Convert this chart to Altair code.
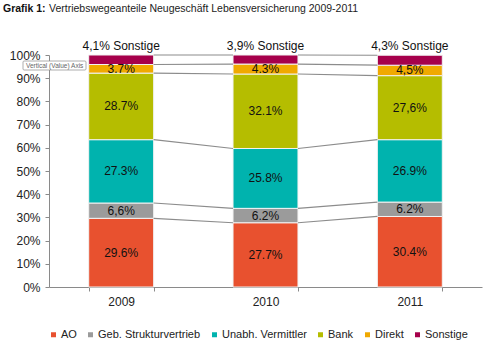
import altair as alt
import pandas as pd

years = ["2009", "2010", "2011"]
categories = ["AO", "Geb. Strukturvertrieb", "Unabh. Vermittler", "Bank", "Direkt", "Sonstige"]
colors = ["#E8512F", "#9B9B9B", "#00B3AE", "#B5BD00", "#F0A900", "#A6004B"]

ao = [29.6, 27.7, 30.4]
geb = [6.6, 6.2, 6.2]
unabh = [27.3, 25.8, 26.9]
bank = [28.7, 32.1, 27.6]
direkt = [3.7, 4.3, 4.5]
sonstige = [4.1, 3.9, 4.3]

ao_lbl = ["29.6%", "27.7%", "30.4%"]
geb_lbl = ["6,6%", "6.2%", "6.2%"]
unabh_lbl = ["27.3%", "25.8%", "26.9%"]
bank_lbl = ["28.7%", "32.1%", "27,6%"]
direkt_lbl = ["3.7%", "4.3%", "4,5%"]
sonstige_lbl = ["4,1% Sonstige", "3,9% Sonstige", "4,3% Sonstige"]
y_ticks = [0, 10, 20, 30, 40, 50, 60, 70, 80, 90, 100]

series = [ao, geb, unabh, bank, direkt, sonstige]
labels = [ao_lbl, geb_lbl, unabh_lbl, bank_lbl, direkt_lbl, sonstige_lbl]

rows = []
for ci, (cat, vals, lbls) in enumerate(zip(categories, series, labels)):
    for yi, yr in enumerate(years):
        rows.append({"year": yr, "cat": cat, "order": ci, "value": vals[yi], "label": lbls[yi]})
df = pd.DataFrame(rows)

FONT = "Liberation Sans"
one = alt.Data(values=[{"k": 1}])

base = alt.Chart(df).transform_stack(
    stack="value", groupby=["year"], as_=["y0", "y1"], sort=[alt.SortField("order")]
).transform_calculate(mid="(datum.y0 + datum.y1) / 2")

xscale = alt.Scale(paddingInner=0.55, paddingOuter=0.275)
xaxis = alt.Axis(
    labelAngle=0, labelFontSize=12, labelColor="#222", labelFont=FONT,
    domainColor="#8a8a8a", tickColor="#8a8a8a", tickSize=4, tickBand="extent",
    labelPadding=5,
)
yscale = alt.Scale(domain=[0, 100], nice=False)
yaxis = alt.Axis(
    values=y_ticks, labelExpr="datum.value + '%'",
    labelFontSize=12, labelColor="#222", labelFont=FONT, grid=False,
    domainColor="#8a8a8a", tickColor="#8a8a8a", tickSize=4, labelPadding=5,
    labelOverlap=False,
)

bars = base.mark_bar(stroke="#f2f2f2", strokeWidth=1).encode(
    x=alt.X("year:N", title=None, scale=xscale, axis=xaxis),
    y=alt.Y("y0:Q", scale=yscale, title=None, axis=yaxis),
    y2="y1:Q",
    color=alt.Color(
        "cat:N",
        scale=alt.Scale(domain=categories, range=colors),
        sort=categories,
        legend=alt.Legend(
            title=None, orient="none", direction="horizontal", legendX=-1, legendY=274,
            symbolType="square", symbolSize=25, symbolStrokeWidth=0,
            labelFontSize=11, labelFont=FONT, labelColor="#222",
            columnPadding=8, labelOffset=2, padding=0,
        ),
    ),
    order=alt.Order("order:Q"),
)

conn = base.transform_window(
    next_year="lead(year)", next_y1="lead(y1)", groupby=["cat"], sort=[alt.SortField("year")]
).transform_filter("datum.next_year != null").mark_rule(
    color="#8c8c8c", strokeWidth=1.2, xOffset=32.5, x2Offset=-32.5
).encode(
    x=alt.X("year:N", title=None, scale=xscale, axis=xaxis),
    x2="next_year:N",
    y=alt.Y("y1:Q", scale=yscale, title=None, axis=yaxis),
    y2="next_y1:Q",
)

seg_text = base.transform_filter("datum.cat != 'Sonstige'").mark_text(
    fontSize=12, font=FONT, color="#111"
).encode(
    x=alt.X("year:N", title=None, scale=xscale, axis=xaxis),
    y=alt.Y("mid:Q", scale=yscale, title=None, axis=yaxis),
    text="label:N",
)

top_text = base.transform_filter("datum.cat == 'Sonstige'").mark_text(
    fontSize=12, font=FONT, color="#111", dy=-9
).encode(
    x=alt.X("year:N", title=None, scale=xscale, axis=xaxis),
    y=alt.Y("y1:Q", scale=yscale, title=None, axis=yaxis),
    text="label:N",
)

title_bold = alt.Chart(one).mark_text(
    text="Grafik 1:", fontSize=10.5, font=FONT, fontWeight="bold", align="left", color="#111"
).encode(x=alt.value(-46), y=alt.value(-46))
title_rest = alt.Chart(one).mark_text(
    text="Vertriebswegeanteile Neugeschäft Lebensversicherung 2009-2011",
    fontSize=10.5, font=FONT, align="left", color="#222",
).encode(x=alt.value(0), y=alt.value(-46))

tip_box = alt.Chart(one).mark_rect(
    fill="white", stroke="#9a9a9a", strokeWidth=0.8, cornerRadius=1
).encode(x=alt.value(-26), x2=alt.value(37), y=alt.value(6), y2=alt.value(15))
tip_text = alt.Chart(one).mark_text(
    text="Vertical (Value) Axis", fontSize=6.5, font=FONT, color="#666", align="left"
).encode(x=alt.value(-23), y=alt.value(10.5))

chart = alt.layer(
    bars, conn, seg_text, top_text, title_bold, title_rest, tip_box, tip_text
).properties(
    width=433, height=232,
    autosize=alt.AutoSizeParams(type="none"),
    padding={"left": 49, "top": 55, "right": 18, "bottom": 64},
).configure_view(stroke=None)

chart.save("out.html", embed_options={"renderer": "svg", "actions": False})
